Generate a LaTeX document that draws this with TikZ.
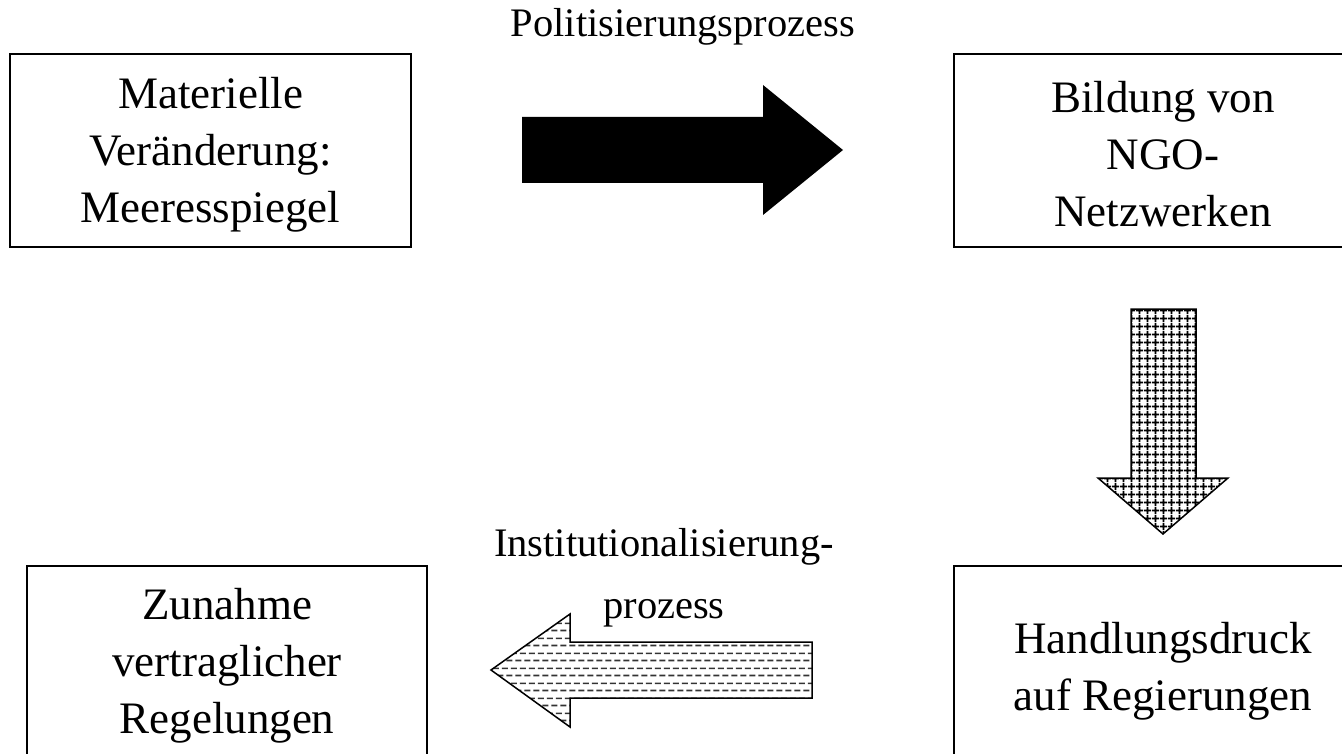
\documentclass[tikz,border=0pt]{standalone}
\usepackage{fontspec}
\setmainfont{Liberation Serif}
\usetikzlibrary{patterns}
\pgfdeclarepatternformonly{mygrid}{\pgfpointorigin}{\pgfpoint{8pt}{8pt}}{\pgfpoint{8pt}{8pt}}{%
  \pgfsetlinewidth{2pt}%
  \pgfpathmoveto{\pgfpoint{0pt}{4pt}}\pgfpathlineto{\pgfpoint{8pt}{4pt}}%
  \pgfpathmoveto{\pgfpoint{4pt}{0pt}}\pgfpathlineto{\pgfpoint{4pt}{8pt}}%
  \pgfusepath{stroke}}
\pgfdeclarepatternformonly{mydashes}{\pgfpointorigin}{\pgfpoint{9.4pt}{15pt}}{\pgfpoint{9.4pt}{15pt}}{%
  \pgfsetlinewidth{1.7pt}%
  \pgfpathmoveto{\pgfpoint{0.5pt}{3.75pt}}\pgfpathlineto{\pgfpoint{6.8pt}{3.75pt}}%
  \pgfpathmoveto{\pgfpoint{5.2pt}{11.25pt}}\pgfpathlineto{\pgfpoint{9.4pt}{11.25pt}}%
  \pgfpathmoveto{\pgfpoint{0pt}{11.25pt}}\pgfpathlineto{\pgfpoint{2.1pt}{11.25pt}}%
  \pgfusepath{stroke}}
\tikzset{
  boxnode/.style={draw=black, line width=2pt, inner sep=0pt},
  boxtext/.style={align=center, inner sep=0pt, font=\fontsize{45}{57}\selectfont},
  labelnode/.style={align=center, inner sep=0pt, font=\fontsize{40.5}{62}\selectfont},
  blockarrow/.style={draw=black, line width=1.5pt, line join=miter},
}
\begin{document}
\begin{tikzpicture}[x=1pt, y=-1pt]
\useasboundingbox (0,0) rectangle (1342,754);
\clip (0,0) rectangle (1342,754);
% boxes
\node[boxnode, minimum width=401pt, minimum height=193pt] (mat) at (210.5,150.5) {};
\node[boxtext] (matt) at ([yshift=-4pt]mat.center) {Materielle\\Veränderung:\\Meeresspiegel};
\node[boxnode, minimum width=418pt, minimum height=193pt] (ngo) at (1163,150.5) {};
\node[boxtext] (ngot) at ([yshift=-4pt]ngo.center) {Bildung von\\NGO-\\Netzwerken};
\node[boxnode, minimum width=418pt, minimum height=210pt] (hand) at (1163,671) {};
\node[boxtext] (handt) at (hand.center) {Handlungsdruck\\auf Regierungen};
\node[boxnode, minimum width=400pt, minimum height=196pt] (zun) at (227,664) {};
\node[boxtext] (zunt) at ([yshift=-2pt]zun.center) {Zunahme\\vertraglicher\\Regelungen};
% labels
\node[labelnode, anchor=base] (pol) at (683,37) {Politisierungsprozess};
\node[labelnode, anchor=north] (inst) at (664,528) {Institutionalisierung-\\prozess};
% block arrows
\fill[black] (522,117) -- (763,117) -- (763,85) -- (843,150) -- (763,215)
  -- (763,183) -- (522,183) -- cycle;
\draw[blockarrow, pattern=mygrid, pattern color=black]
  (1131,309) -- (1196,309) -- (1196,478) -- (1228,478) -- (1163,534)
  -- (1098,478) -- (1131,478) -- cycle;
\draw[blockarrow, pattern=mydashes, pattern color=black!80]
  (812,642) -- (570,642) -- (570,614) -- (491,670) -- (570,727)
  -- (570,698) -- (812,698) -- cycle;
\end{tikzpicture}
\end{document}
